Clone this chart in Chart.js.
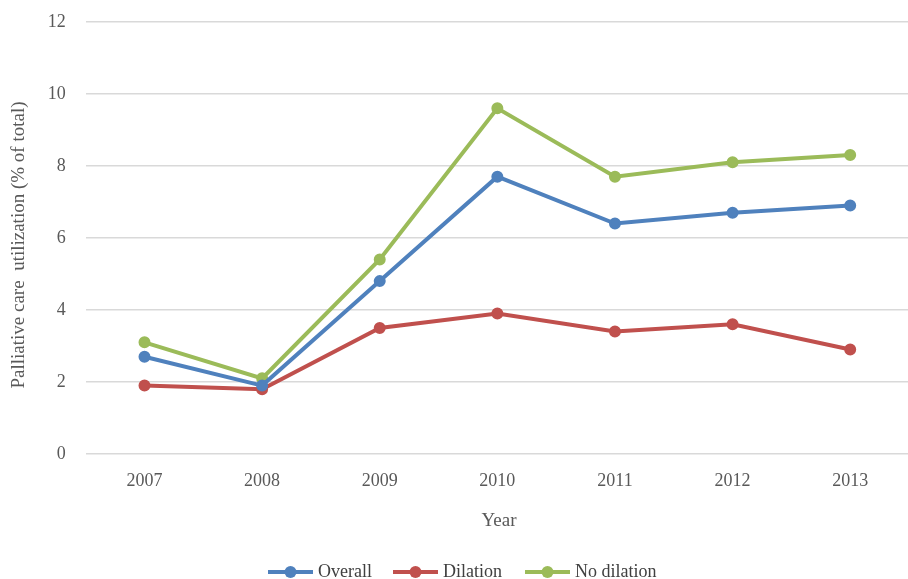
<!DOCTYPE html>
<html>
<head>
<meta charset="utf-8">
<script src="https://cdn.jsdelivr.net/npm/chart.js@4/dist/chart.umd.min.js"></script>
<style>
html,body{margin:0;padding:0;background:#fff;overflow:hidden;width:908px;height:579px;}
#wrap{position:absolute;left:0;top:-9px;width:916px;height:588px;}
</style>
</head>
<body>
<div id="wrap"><canvas id="c" width="916" height="588"></canvas></div>
<script>
const years = ["2007","2008","2009","2010","2011","2012","2013"];
const overall = [2.7, 1.9, 4.8, 7.7, 6.4, 6.7, 6.9];
const dilation = [1.9, 1.8, 3.5, 3.9, 3.4, 3.6, 2.9];
const noDilation = [3.1, 2.1, 5.4, 9.6, 7.7, 8.1, 8.3];
const seriesNames = ["Overall", "Dilation", "No dilation"];
const yTitle = "Palliative care  utilization (% of total)";
const xTitle = "Year";

const FONT = "'Liberation Serif', 'DejaVu Serif', serif";
const colors = ["#4f81bd", "#c0504d", "#9bbb59"];
const SHIFT = 9;

function ds(label, data, color){
  return {label, data, borderColor: color, backgroundColor: color,
    borderWidth: 4, pointRadius: 5, pointBorderWidth: 2, pointBorderColor: color,
    pointBackgroundColor: color, tension: 0, clip: false};
}

const extras = {
  id: 'extras',
  afterDraw(chart){
    const ctx = chart.ctx;
    ctx.save();
    ctx.fillStyle = '#595959';
    ctx.font = '19px ' + FONT;
    ctx.textAlign = 'center';
    ctx.textBaseline = 'middle';
    ctx.translate(19, 245 + SHIFT);
    ctx.rotate(-Math.PI/2);
    ctx.fillText(yTitle, 0, 0);
    ctx.restore();
    ctx.save();
    ctx.fillStyle = '#595959';
    ctx.font = '19px ' + FONT;
    ctx.textAlign = 'center';
    ctx.textBaseline = 'middle';
    ctx.fillText(xTitle, 499, 521 + SHIFT);
    const xs = [268, 393, 525];
    chart.data.datasets.forEach((d, i) => {
      const x = xs[i], y = 572 + SHIFT;
      ctx.strokeStyle = d.borderColor;
      ctx.lineWidth = 4;
      ctx.beginPath(); ctx.moveTo(x, y); ctx.lineTo(x + 45, y); ctx.stroke();
      ctx.fillStyle = d.borderColor;
      ctx.beginPath(); ctx.arc(x + 22.5, y, 6, 0, Math.PI*2); ctx.fill();
      ctx.fillStyle = '#404040';
      ctx.font = '18px ' + FONT;
      ctx.textAlign = 'left';
      ctx.fillText(d.label, x + 50, y);
    });
    ctx.restore();
  }
};

new Chart(document.getElementById('c'), {
  type: 'line',
  data: {
    labels: years,
    datasets: [
      ds(seriesNames[0], overall, colors[0]),
      ds(seriesNames[1], dilation, colors[1]),
      ds(seriesNames[2], noDilation, colors[2])
    ]
  },
  options: {
    responsive: false,
    animation: false,
    layout: {padding: {top: 0, right: 0, bottom: 0, left: 0}},
    plugins: {legend: {display: false}, tooltip: {enabled: false}},
    scales: {
      x: {
        offset: true,
        grid: {display: false, drawTicks: false},
        border: {display: false},
        ticks: {color: '#595959', font: {family: FONT, size: 18}, padding: 16, maxRotation: 0},
        afterFit(s){ s.height = 125; }
      },
      y: {
        min: 0, max: 12,
        ticks: {stepSize: 2, color: '#595959', font: {family: FONT, size: 18}, padding: 20},
        grid: {color: '#d9d9d9', lineWidth: 1.5, drawTicks: false},
        border: {display: false},
        afterFit(s){ s.width = 85.7; }
      }
    }
  },
  plugins: [extras]
});
</script>
</body>
</html>
